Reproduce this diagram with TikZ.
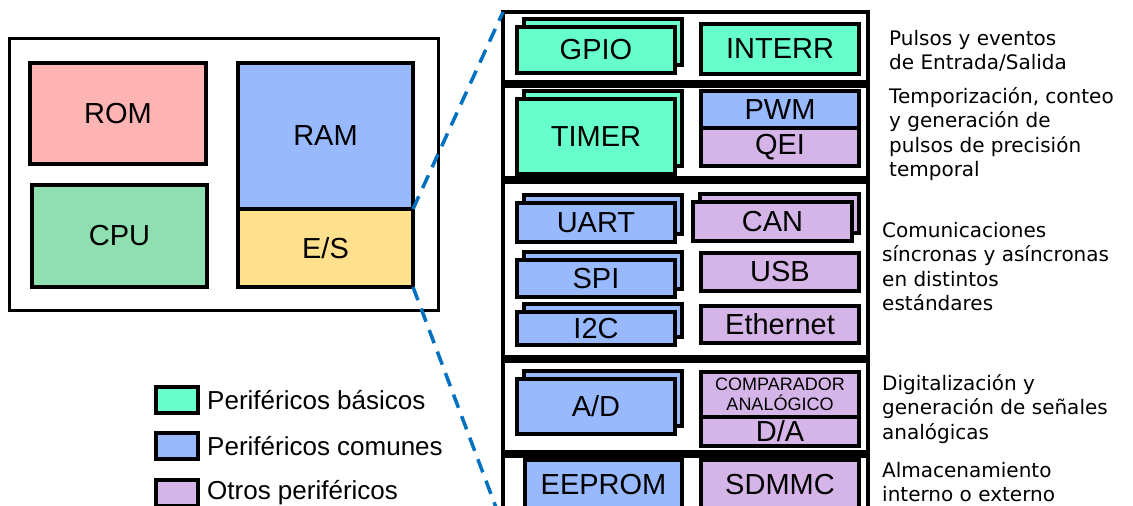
\documentclass[tikz,border=0pt]{standalone}
\usepackage{fontspec}
\setmainfont{Liberation Sans}
\newfontfamily\descfont{DejaVu Sans}
\usetikzlibrary{shadows}

\definecolor{basico}{HTML}{66FFCC}
\definecolor{comun}{HTML}{99B9FF}
\definecolor{otro}{HTML}{D5B4E8}
\definecolor{romc}{HTML}{FFB4B4}
\definecolor{cpuc}{HTML}{90DFB0}
\definecolor{esc}{HTML}{FFE08C}
\definecolor{linkc}{HTML}{0070C0}

\tikzstyle{block}=[draw=black,line width=3.5pt,inner sep=0pt,outer sep=0pt,anchor=north west,font=\fontsize{29}{30}\selectfont]
\tikzstyle{stack}=[copy shadow={shadow xshift=7pt,shadow yshift=8pt}]
\tikzstyle{section}=[draw=black,line width=3.5pt,inner sep=0pt,outer sep=0pt,anchor=north west,minimum width=365pt]
\tikzstyle{desc}=[anchor=north west,align=left,inner sep=0pt,font=\descfont\fontsize{20}{24.5}\selectfont]
\tikzstyle{link}=[draw=linkc,line width=3.5pt,dash pattern=on 14pt off 9pt]

\begin{document}
\begin{tikzpicture}[x=1pt,y=-1pt]
\useasboundingbox[fill=white] (0,0) rectangle (1133,506);

% Microcontrolador
   \node[draw=black,line width=3pt,inner sep=0pt,outer sep=0pt,anchor=north west,minimum width=429pt,minimum height=272pt] (mcu) at (9,38) {};
   \node[block,fill=romc,minimum width=176pt,minimum height=101pt] (rom) at (30,63) {ROM};
   \node[block,fill=cpuc,minimum width=175pt,minimum height=102pt] (cpu) at (32,185) {CPU};
   \node[block,fill=comun,minimum width=175pt,minimum height=146pt] (ram) at (238,63) {RAM};
   \node[block,fill=esc,minimum width=175pt,minimum height=78pt] (es) at (ram.south west) {E/S};

% Perifericos
   \node[section,minimum height=70pt] (sec1) at (503,12) {};
   \node[section,minimum height=92pt] (sec2) at (503,86) {};
   \node[section,minimum height=175pt] (sec3) at (503,182) {};
   \node[section,minimum height=91pt] (sec4) at (503,361) {};
   \node[section,minimum height=70pt] (sec5) at (503,456) {};

   \node[block,stack,fill=basico,minimum width=158pt,minimum height=46pt] (gpio) at (517,27) {GPIO};
   \node[block,fill=basico,minimum width=158pt,minimum height=50pt] (interr) at (701,24) {INTERR};

   \node[block,stack,fill=basico,minimum width=158pt,minimum height=75pt] (timer) at (517,99) {TIMER};
   \node[block,fill=comun,minimum width=158pt,minimum height=37pt] (pwm) at (701,91) {PWM};
   \node[block,fill=otro,minimum width=158pt,minimum height=38pt] (qei) at (pwm.south west) {QEI};

   \node[block,stack,fill=comun,minimum width=158pt,minimum height=39pt] (uart) at (517,203) {UART};
   \node[block,stack,fill=otro,minimum width=159pt,minimum height=39pt] (can) at (693,202) {CAN};
   \node[block,stack,fill=comun,minimum width=158pt,minimum height=37pt] (spi) at (517,260) {SPI};
   \node[block,fill=otro,minimum width=158pt,minimum height=38pt] (usb) at (701,253) {USB};
   \node[block,stack,fill=comun,minimum width=158pt,minimum height=33pt] (i2c) at (517,312) {I2C};
   \node[block,fill=otro,minimum width=158pt,minimum height=37pt] (ether) at (701,306) {Ethernet};

   \node[block,stack,fill=comun,minimum width=158pt,minimum height=55pt] (ad) at (517,379) {A/D};
   \node[block,fill=otro,minimum width=158pt,minimum height=45pt,align=center,font=\fontsize{18}{20}\selectfont] (comp) at (701,372) {COMPARADOR\\ANALÓGICO};
   \node[block,fill=otro,minimum width=158pt,minimum height=29pt] (da) at (comp.south west) {D/A};

   \node[block,fill=comun,minimum width=157pt,minimum height=50pt] (eeprom) at (525,460) {EEPROM};
   \node[block,fill=otro,minimum width=158pt,minimum height=50pt] (sdmmc) at (701,460) {SDMMC};

% Ampliacion de E/S
   \draw[link] (es.north east) -- (sec1.north west);
   \draw[link] (es.south east) -- (sec5.south west);

% Descripciones
   \node[desc] (d1) at (889,28) {\strut Pulsos y eventos\\de Entrada/Salida};
   \node[desc] (d2) at (889,86) {\strut Temporización, conteo\\y generación de\\pulsos de precisión\\temporal};
   \node[desc] (d3) at (882,220) {\strut Comunicaciones\\síncronas y asíncronas\\en distintos\\estándares};
   \node[desc] (d4) at (882,373) {\strut Digitalización y\\generación de señales\\analógicas};
   \node[desc] (d5) at (882,460) {\strut Almacenamiento\\interno o externo};

% Leyenda
   \node[block,fill=basico,minimum width=42pt,minimum height=26pt] (leg1) at (156,387) {};
   \node[block,fill=comun,minimum width=42pt,minimum height=26pt] (leg2) at (156,433) {};
   \node[block,fill=otro,minimum width=42pt,minimum height=26pt] (leg3) at (156,480) {};
   \node[anchor=west,inner sep=0pt,font=\fontsize{26}{28}\selectfont] (t1) at ([xshift=9pt]leg1.east) {Periféricos básicos};
   \node[anchor=west,inner sep=0pt,font=\fontsize{26}{28}\selectfont] (t2) at ([xshift=9pt]leg2.east) {Periféricos comunes};
   \node[anchor=west,inner sep=0pt,font=\fontsize{26}{28}\selectfont] (t3) at ([xshift=9pt]leg3.east) {Otros periféricos};

\end{tikzpicture}
\end{document}
